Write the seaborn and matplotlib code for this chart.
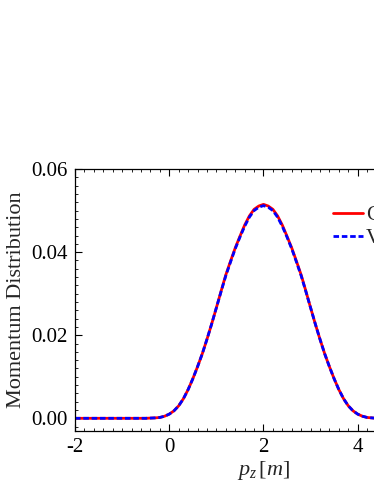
import numpy as np
import pandas as pd
import matplotlib
matplotlib.use("Agg")
import matplotlib.pyplot as plt
import seaborn as sns
from matplotlib.ticker import MultipleLocator, FormatStrFormatter

# momentum grid
pz = [-2.0, -1.5, -1.0, -0.5, -0.3, -0.2, -0.1, 0.0, 0.1, 0.2, 0.3, 0.4, 0.5,
      0.6, 0.7, 0.8, 0.9, 1.0, 1.1, 1.2, 1.3, 1.4, 1.5, 1.6, 1.7, 1.8, 1.9,
      2.0, 2.1, 2.2, 2.3, 2.4, 2.5, 2.6, 2.7, 2.8, 2.9, 3.0, 3.1, 3.2, 3.3,
      3.4, 3.5, 3.6, 3.7, 3.8, 3.9, 4.0, 4.1, 4.2, 4.3, 4.4, 5.0, 6.0]

# solid red curve
dist_c = [0.0, 0.0, 0.0, 0.0, 0.0001, 0.0002, 0.0005, 0.0010, 0.0018, 0.0030,
          0.0047, 0.0069, 0.0095, 0.0124, 0.0155, 0.0190, 0.0227, 0.0266,
          0.0306, 0.0345, 0.0378, 0.0410, 0.0438, 0.0465, 0.0487, 0.0503,
          0.0511, 0.0515, 0.0511, 0.0503, 0.0487, 0.0465, 0.0438, 0.0410,
          0.0378, 0.0345, 0.0306, 0.0266, 0.0227, 0.0190, 0.0155, 0.0124,
          0.0095, 0.0069, 0.0047, 0.0030, 0.0018, 0.0010, 0.0005, 0.0002,
          0.0001, 0.0, 0.0, 0.0]

# dashed blue curve
dist_v = [0.0, 0.0, 0.0, 0.0, 0.0001, 0.0002, 0.0005, 0.0010, 0.0018, 0.0030,
          0.0047, 0.0069, 0.0095, 0.0124, 0.0155, 0.0190, 0.0227, 0.0266,
          0.0305, 0.0343, 0.0376, 0.0408, 0.0436, 0.0462, 0.0484, 0.0500,
          0.0508, 0.0512, 0.0508, 0.0500, 0.0484, 0.0462, 0.0436, 0.0408,
          0.0376, 0.0343, 0.0305, 0.0266, 0.0227, 0.0190, 0.0155, 0.0124,
          0.0095, 0.0069, 0.0047, 0.0030, 0.0018, 0.0010, 0.0005, 0.0002,
          0.0001, 0.0, 0.0, 0.0]

labels = ["Classical", "Vlasov"]

df = pd.DataFrame({
    "pz": pz + pz,
    "dist": dist_c + dist_v,
    "model": [labels[0]] * len(pz) + [labels[1]] * len(pz),
})

sns.set_style("ticks")
plt.rcParams["font.family"] = ["Liberation Serif", "DejaVu Serif"]
plt.rcParams["mathtext.fontset"] = "custom"
plt.rcParams["mathtext.it"] = "Liberation Serif:italic"
plt.rcParams["mathtext.rm"] = "Liberation Serif"
plt.rcParams["axes.unicode_minus"] = False

fig = plt.figure(figsize=(3.74, 4.84), dpi=100)
ax = fig.add_axes([0.2005, 0.110, 1.008, 0.5407])

sns.lineplot(data=df, x="pz", y="dist", hue="model", style="model",
             palette=["red", "blue"], dashes=[(None, None), (2, 1)],
             linewidth=2, ax=ax)

ax.set_xlim(-2, 6)
ax.set_ylim(-0.003, 0.06)
ax.xaxis.set_major_locator(MultipleLocator(2))
ax.xaxis.set_minor_locator(MultipleLocator(0.2))
ax.yaxis.set_major_locator(MultipleLocator(0.02))
ax.yaxis.set_minor_locator(MultipleLocator(0.002))
ax.yaxis.set_major_formatter(FormatStrFormatter("%.2f"))
ax.xaxis.set_major_formatter(FormatStrFormatter("%d"))

ax.tick_params(which="both", direction="in", top=True, right=True,
               labelsize=15, color="black", labelcolor="black")
ax.tick_params(which="major", length=5, width=0.8, pad=5)
ax.tick_params(which="minor", length=2.5, width=0.6)
for s in ax.spines.values():
    s.set_linewidth(0.9)
    s.set_color("black")

ax.set_xlabel(r"$p_z\,[m]$", fontsize=16, labelpad=2)
ax.set_ylabel("Momentum Distribution", fontsize=16, labelpad=4)

ax.legend(loc="upper left", bbox_to_anchor=(0.684, 0.86), frameon=False,
          fontsize=15, handlelength=1.45, handletextpad=0.15,
          labelspacing=0.17, borderpad=0, borderaxespad=0)

fig.savefig("out.png", dpi=100)
